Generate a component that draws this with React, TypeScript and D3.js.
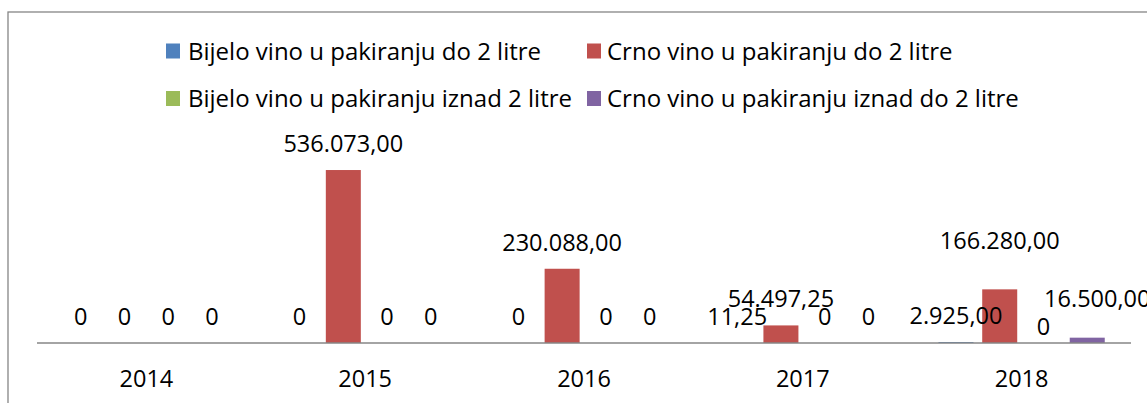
import React from "react";
import * as d3 from "d3";

const years = ["2014", "2015", "2016", "2017", "2018"];
const seriesNames = [
  "Bijelo vino u pakiranju do 2 litre",
  "Crno vino u pakiranju do 2 litre",
  "Bijelo vino u pakiranju iznad 2 litre",
  "Crno vino u pakiranju iznad do 2 litre",
];
const bijeloDo2 = [0, 0, 0, 11.25, 2925];
const crnoDo2 = [0, 536073, 230088, 54497.25, 166280];
const bijeloIznad2 = [0, 0, 0, 0, 0];
const crnoIznad2 = [0, 0, 0, 0, 16500];
const seriesValues = [bijeloDo2, crnoDo2, bijeloIznad2, crnoIznad2];
const colors = ["#4F81BD", "#C0504D", "#9BBB59", "#8064A2"];

// manual label nudges (style/layout, as in the original chart): key "yearIndex-seriesIndex"
const labelNudge: Record<string, [number, number]> = {
  "4-1": [0, -22],
  "4-3": [10, -13],
  "4-2": [0, 10],
};

const W = 1147;
const H = 403;
const FONT = "'Open Sans', sans-serif";

const loc = d3.formatLocale({ decimal: ",", thousands: ".", grouping: [3], currency: ["", ""] });
const fmt = loc.format(",.2f");
const label = (v: number) => (v === 0 ? "0" : fmt(v));

export default function App() {
  const x = d3.scaleBand<string>().domain(years).range([37, 1131]).paddingInner(0).paddingOuter(0);
  const y = d3.scaleLinear().domain([0, 600000]).range([343, 149.4]);
  const bw = x.bandwidth();
  const barW = bw / 6.25;
  const step = barW * 1.25;

  const legendItems = [
    { i: 0, sx: 166, tx: 188, base: 59.5 },
    { i: 1, sx: 587, tx: 607, base: 59.5 },
    { i: 2, sx: 166, tx: 188, base: 107 },
    { i: 3, sx: 587, tx: 607, base: 107 },
  ];

  const cells = years.flatMap((yr, yi) =>
    seriesValues.map((vals, si) => {
      const v = vals[yi];
      const c = (x(yr) as number) + bw / 2 + (si - 1.5) * step;
      return { yi, si, v, c, top: y(v) };
    })
  );

  return (
    <svg width={W} height={H} style={{ position: "absolute", left: 0, top: 0, background: "#fff" }}>
      <rect x={8} y={12} width={W + 20} height={H + 20} fill="#fff" stroke="#868686" strokeWidth={1.3} />
      {legendItems.map((l) => (
        <g key={l.i}>
          <rect x={l.sx} y={l.base - 16} width={14} height={15} fill={colors[l.i]} />
          <text x={l.tx} y={l.base} fontFamily={FONT} fontSize={24} fill="#000">
            {seriesNames[l.i]}
          </text>
        </g>
      ))}
      {cells
        .filter((d) => d.v > 0)
        .map((d) => (
          <rect
            key={`b${d.yi}-${d.si}`}
            x={d.c - barW / 2}
            y={d.top}
            width={barW}
            height={y(0) - d.top}
            fill={colors[d.si]}
          />
        ))}
      <line x1={37} x2={1131} y1={343} y2={343} stroke="#868686" strokeWidth={1.5} />
      {cells.map((d) => {
        const nud = labelNudge[`${d.yi}-${d.si}`] || [0, 0];
        return (
          <text
            key={`t${d.yi}-${d.si}`}
            x={d.c + nud[0]}
            y={d.top - 18 + nud[1]}
            textAnchor="middle"
            fontFamily={FONT}
            fontSize={23.5}
            fill="#000"
          >
            {label(d.v)}
          </text>
        );
      })}
      {years.map((yr) => (
        <text
          key={yr}
          x={(x(yr) as number) + bw / 2}
          y={387}
          textAnchor="middle"
          fontFamily={FONT}
          fontSize={23.5}
          fill="#000"
        >
          {yr}
        </text>
      ))}
    </svg>
  );
}
